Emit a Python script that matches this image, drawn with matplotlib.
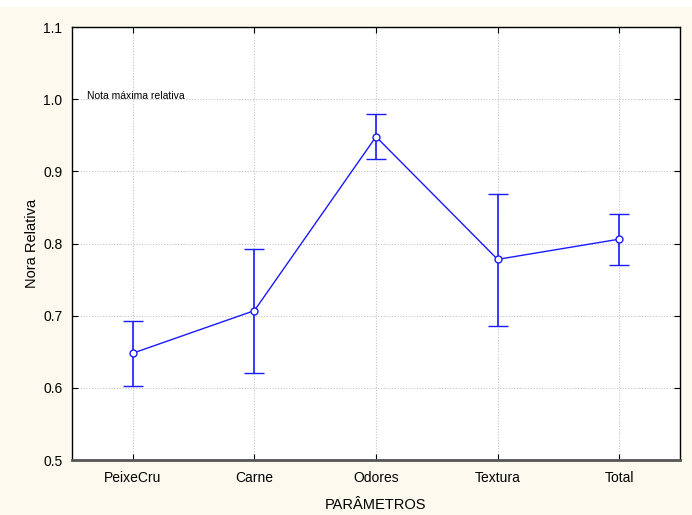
import matplotlib.pyplot as plt
import matplotlib.patches as patches
import numpy as np

plt.rcParams['font.family'] = ['Liberation Sans', 'DejaVu Sans']

params = ['PeixeCru', 'Carne', 'Odores', 'Textura', 'Total']
means = np.array([0.648, 0.707, 0.948, 0.778, 0.806])
upper = np.array([0.693, 0.793, 0.979, 0.869, 0.841])
lower = np.array([0.602, 0.621, 0.917, 0.686, 0.770])

cream = '#fdf9ee'

fig = plt.figure(figsize=(6.92, 5.15), dpi=100)
fig.patch.set_facecolor('white')
# cream panel below a thin white strip at the top
fig.patches.append(patches.Rectangle((0, 0), 1, 1 - 7 / 515, transform=fig.transFigure,
                                     facecolor=cream, edgecolor='none', zorder=-10))

ax = fig.add_axes([72 / 692, 55 / 515, 608 / 692, 433 / 515])
ax.set_facecolor('white')

x = np.arange(len(params))
yerr = np.vstack([means - lower, upper - means])
ax.errorbar(x, means, yerr=yerr, color='#1a1aff', lw=1.0, elinewidth=1.2,
            capsize=7, capthick=1.2, marker='o', ms=5, mfc='white',
            mec='#1a1aff', mew=1.0, zorder=3)

ax.set_xlim(-0.5, 4.5)
ax.set_ylim(0.5, 1.1)
ax.set_xticks(x)
ax.set_xticklabels(params)
ax.set_yticks(np.arange(0.5, 1.101, 0.1))
ax.set_yticklabels([f'{v:.1f}' for v in np.arange(0.5, 1.101, 0.1)])
ax.tick_params(direction='in', top=True, right=True, length=4, labelsize=10,
               colors='black')
ax.tick_params(axis='y', pad=7)
ax.tick_params(axis='x', pad=8)
ax.grid(True, color='#c4c4c4', linestyle=(0, (1, 1.5)), lw=0.8)

for s in ['left', 'top', 'right']:
    ax.spines[s].set_color('black')
    ax.spines[s].set_linewidth(1.0)
ax.spines['bottom'].set_color('#555555')
ax.spines['bottom'].set_linewidth(2.0)

ax.set_xlabel('PARÂMETROS', fontsize=10.5, labelpad=9)
ax.set_ylabel('Nora Relativa', fontsize=10.5, labelpad=3)

ax.text(-0.38, 1.004, 'Nota máxima relativa', fontsize=7.5, va='center', ha='left')

fig.savefig('out.png', dpi=100, facecolor=fig.get_facecolor())
